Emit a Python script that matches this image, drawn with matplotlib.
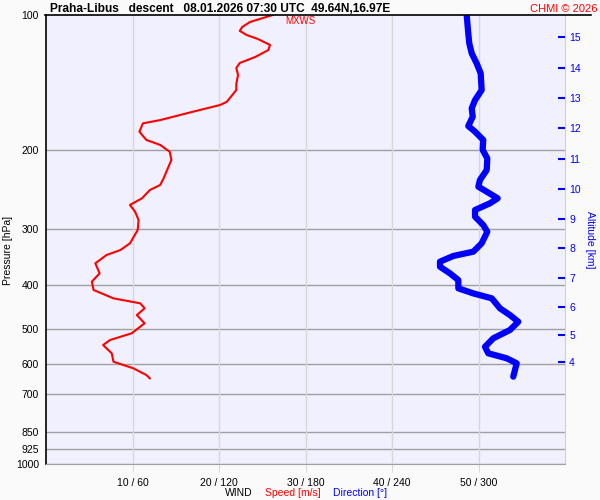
import numpy as np
import matplotlib.pyplot as plt
from matplotlib.lines import Line2D

plt.rcParams['font.family'] = ['Liberation Sans', 'DejaVu Sans']

# wind speed profile [m/s] vs pressure [hPa]
speed_p = [100, 102.1, 103.6, 106.3, 108.5, 110.8, 113.1, 116.6, 119.7, 124, 127.9, 131.2,
           136, 142.4, 146.9, 156.1, 158.7, 164.2, 171.4, 174.3, 181.9, 189.8, 194.7, 201.6,
           210.3, 221.4, 231, 239.1, 245.4, 256, 264.9, 274.2, 286.1, 301.3, 322.5, 333.8,
           342.4, 357.3, 376.2, 392.6, 409.7, 427.6, 438.7, 450.1, 465.9, 486.1, 511.6,
           529.5, 543.3, 566.9, 591.8, 612.2, 633.6, 644.4]
speed = [26.2, 24.7, 23.6, 22.7, 22.4, 23.2, 24.5, 25.9, 25.7, 24.2, 22.4, 22.0,
         22.2, 22.0, 22.0, 20.9, 20.1, 17.0, 13.2, 11.2, 10.8, 11.6, 13.2, 14.3,
         14.5, 14.0, 13.6, 13.2, 12.0, 11.1, 9.7, 10.3, 10.7, 10.6, 9.7, 8.6,
         7.0, 5.7, 6.2, 5.3, 5.5, 7.8, 10.9, 11.4, 10.5, 11.4, 9.9,
         7.4, 6.6, 7.6, 7.8, 10.1, 11.6, 12.0]

# wind direction profile [deg] vs pressure [hPa]
dir_p = [100, 109.8, 115.6, 121.7, 128.1, 134.8, 146.9, 154.7, 161.4, 168.5, 176.7, 181.9,
         189.8, 199.8, 208.6, 221.4, 233.1, 241.2, 247.5, 256, 262.6, 271.8, 281.3, 293.6,
         303.9, 322.5, 336.6, 344.1, 354.3, 363.6, 376.2, 389.3, 406.2, 416.9, 427.6,
         450.1, 465.9, 482.2, 503, 524.8, 548.1, 566.9, 581.6, 596.7, 617.5, 639]
direction = [291.8, 292.9, 293.6, 295.3, 298.7, 301.5, 302.2, 297.6, 295.3, 296, 292.9, 297.6,
             303.3, 302.9, 306.1, 305.7, 301, 299.9, 305.7, 313.3, 308, 297.6, 297.6, 303.3,
             306.1, 302.2, 296.4, 282.5, 273.3, 273.3, 280.2, 286, 286, 296.4, 309.2,
             314.9, 321.8, 327.6, 321.8, 310.3, 304.5, 306.8, 319.6, 326.5, 325.3, 324.1]

p_levels = [100, 200, 300, 400, 500, 600, 700, 850, 925, 1000]
speed_ticks = [10, 20, 30, 40, 50]
dir_ticks = [60, 120, 180, 240, 300]
alt_km = [4, 5, 6, 7, 8, 9, 10, 11, 12, 13, 14, 15]
alt_p = [593.6, 516.2, 446.3, 385.9, 330.8, 284.7, 244.1, 209.3, 178.8, 153.3, 131.4, 112.1]

fig = plt.figure(figsize=(6, 5), dpi=100, facecolor='#FAFAFA')
ax = fig.add_axes([46/600, 1-464/500, 519/600, 449/500], facecolor='#F0F0FF')

ax.set_yscale('log')
ax.set_ylim(1000, 100)
ax.set_xlim(0, 60)
ax.yaxis.set_minor_locator(plt.NullLocator())
ax.set_yticks(p_levels)
ax.set_yticklabels([str(p) for p in p_levels], fontsize=7.5)
ax.tick_params(axis='y', length=0, pad=5)
ax.set_xticks(speed_ticks)
ax.set_xticklabels([f'{s} / {d}' for s, d in zip(speed_ticks, dir_ticks)], fontsize=7.5)
ax.tick_params(axis='x', length=6, color='#D8D8D8', pad=4)

for p in p_levels[1:]:
    ax.axhline(p, color='#A0A0A0', lw=1.0, zorder=1)
for s in speed_ticks:
    ax.axvline(s, color='#D8D8D8', lw=1.0, zorder=1)

ax.spines['left'].set_color('black')
ax.spines['left'].set_linewidth(1.2)
ax.spines['top'].set_visible(False)
ax.spines['right'].set_color('#D0D0D0')
ax.spines['bottom'].set_color('#A0A0A0')

ax.plot(speed, speed_p, color='red', lw=1.5, solid_joinstyle='round', zorder=3)
imax = int(np.argmax(speed))
ax.annotate('MXWS', xy=(speed[imax], speed_p[imax]), xytext=(9, -1),
            textcoords='offset points', color='red', fontsize=7, va='top')

axd = ax.twiny()
axd.set_xlim(0, 360)
axd.set_xticks([])
for sp in axd.spines.values():
    sp.set_visible(False)
axd.plot(direction, dir_p, color='blue', lw=4.5, solid_capstyle='round',
         solid_joinstyle='round', zorder=3)

axa = ax.twinx()
axa.set_yscale('log')
axa.set_ylim(1000, 100)
axa.yaxis.set_minor_locator(plt.NullLocator())
axa.set_yticks(alt_p)
axa.set_yticklabels([str(a) for a in alt_km], fontsize=7.5, color='blue')
axa.tick_params(axis='y', direction='in', length=5, width=1.5, color='blue', pad=3)
for sp in axa.spines.values():
    sp.set_visible(False)
axa.set_ylabel('Altitude [km]', color='blue', fontsize=7.5, rotation=270, labelpad=10)

fig.text(8/600, 1-250/500, 'Pressure [hPa]', rotation=90, fontsize=7.5,
         ha='center', va='center')

# top rule and header
fig.add_artist(Line2D([45/600, 591/600], [1-15/500, 1-15/500], color='black', lw=1.2))
fig.text(50/600, 1-12/500, 'Praha-Libus   descent   08.01.2026 07:30 UTC  49.64N,16.97E',
         fontsize=8.6, fontweight='bold', va='baseline')
fig.text(598/600, 1-12/500, 'CHMI © 2026', fontsize=8, color='red', ha='right', va='baseline')

fig.text(225/600, 1-496/500, 'WIND', fontsize=7.5, va='baseline')
fig.text(265/600, 1-496/500, 'Speed [m/s]', fontsize=7.5, color='red', va='baseline')
fig.text(333/600, 1-496/500, 'Direction [°]', fontsize=7.5, color='blue', va='baseline')

fig.savefig('out.png', dpi=100, facecolor=fig.get_facecolor())
